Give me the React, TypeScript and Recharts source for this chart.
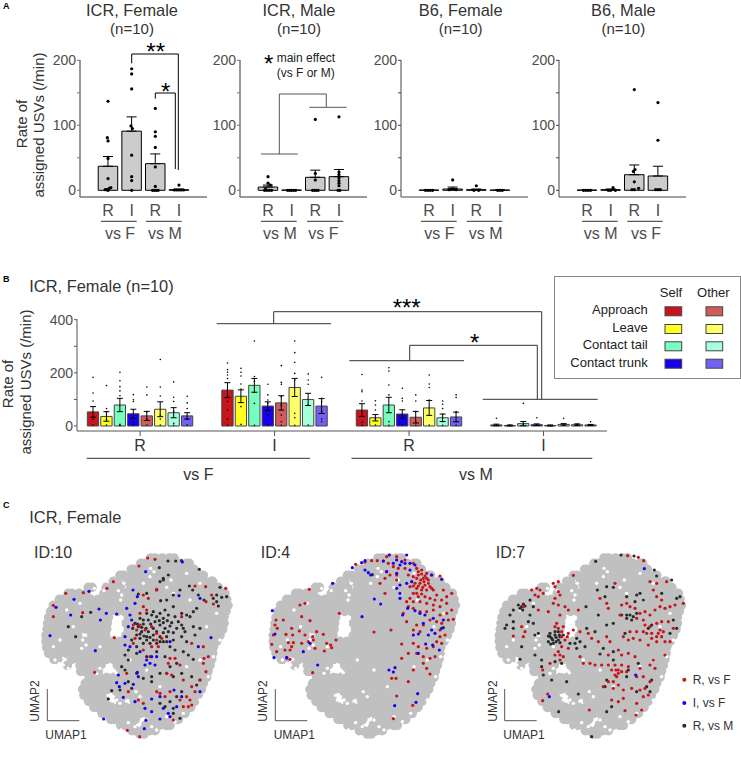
import React from 'react';
import { ComposedChart, ScatterChart, Bar, Cell, ErrorBar, Scatter, XAxis, YAxis } from 'recharts';

const FONT = '"Liberation Sans", Arial, sans-serif';
const TICK = '#4d4d4d';

// Panel A
const condsA = ['R', 'I', 'R', 'I'];
const icrFemaleBars = [37, 91, 41, 1];
const icrFemaleErr = [15, 22, 15, 1];
const icrMaleBars = [5, 0.5, 20, 21];
const icrMaleErr = [3, 0, 11, 11];
const b6FemaleBars = [0.5, 2, 1, 0.5];
const b6FemaleErr = [0, 3, 1, 0];
const b6MaleBars = [0.5, 1, 24, 22];
const b6MaleErr = [0, 1, 15, 15];
const icrFemaleDots = [1,137,.97,81,1,76,1,49,1,18,.88,1,.95,1,1.05,3,1.12,4,1,0,2,187,2,179,2,156,1.97,99,2.03,95,2,54,2,21,2,15,2,0,3,126,3,90,3,83,3,66,3,36,3,6,2.88,0,2.96,0,3.04,0,3.12,0,4,8,3.8,.5,3.9,.5,4,.5,4.1,.5,4.2,.5];
const icrMaleDots = [1,21,1,11,1.1,8,.9,2,.85,0,.95,0,1.05,0,1.15,0,1.83,0,1.92,0,2,0,2.08,0,2.17,0,3,109,3,26,3,16,2.88,0,2.96,0,3.04,0,3.12,0,4,113,4,28,4,24,4,19,4,15,4,11,4,7,3.96,0,4.04,0];
const b6FemaleDots = [.85,0,.95,0,1.05,0,1.15,0,2,16,1.85,1,1.95,2,2.05,2,2.15,1,3,7,2.9,0,3.1,0,3.9,0,4,0,4.1,0];
const b6MaleDots = [.85,0,.95,0,1.05,0,1.15,0,2.1,4,1.9,0,2,0,2.2,0,3,155,3.03,32,2.96,29,3,13,2.9,1,3,1,3.18,3,4,135,4,77,3.9,1,4,1,4.1,1];

// Panel B
const colorsB = ['#c8141c', '#ffff22', '#78ffc0', '#1800ee', '#d25a5c', '#ffff66', '#a4ffdc', '#7260f4'];
const posB = [1,2,3,4,5,6,7,8,11,12,13,14,15,16,17,18,21,22,23,24,25,26,27,28,31,32,33,34,35,36,37,38];
const meansB = [53,36,79,46,38,63,50,38,135,112,153,75,87,145,100,75,60,31,79,45,33,68,31,34,4,2,9,5,2,6,5,4];
const errsB = [20,18,25,17,17,28,19,12,28,24,26,16,27,34,23,28,24,12,29,16,22,28,14,18,3,2,8,3,2,3,3,2];
const dotsB = [
  [183,124,94,25,4],[152,66,54,25,4],[202,170,148,132,114,6,2],[118,99,92,14,3],[147,117,54,26,4],[250,147,113,41,26,4],[166,108,92,54,10,3],[112,87,66,26,4],
  [237,212,202,192,179,92,60,26,3],[217,202,188,158,139,73,6],[320,186,167,127,85,3],[157,117,98,85,41,3],[227,164,157,110,79,41,16,3],[320,276,240,198,173,48,31,3],[196,173,157,79,4],[183,104,92,54,26,16],
  [194,135,129,94,14,3],[95,79,60,26,4],[219,207,154,117,16,3],[142,104,94,41,4],[117,94,54,16,3],[192,158,145,98,4],[94,82,66,44,16,3],[117,107,54,16,3],
  [29,2],[4],[85,6],[31,4],[2],[29,4],[6],[16,2],
];

// Panel C: shared background cloud, one list of x per row, row y first
const cloudRows = [
  [174,452,466,487,508,522],
  [190,422,434,455,476,497,518,539,560,568],
  [208,394,403,424,445,466,487,508,529,550,571,582],
  [226,360,372,393,414,435,456,477,498,519,540,561,582,603,610],
  [244,340,352,382,403,424,445,466,487,508,529,550,571,592,613,634,638],
  [262,265,276,318,340,361,392,413,434,455,476,497,518,539,560,581,602,623,644,655],
  [280,205,216,237,258,312,333,354,375,396,417,438,459,480,501,522,543,564,585,606,627,648,669,675],
  [298,178,189,210,231,252,273,294,315,336,357,378,399,420,441,462,483,504,525,546,567,588,609,630,651,672,680],
  [316,160,171,192,213,234,255,276,297,318,339,360,381,402,423,444,465,486,507,528,549,570,591,612,633,654,675,684],
  [334,152,163,184,205,226,247,268,289,310,331,352,373,394,415,436,457,478,499,520,541,562,583,604,625,646,667,678],
  [352,146,157,178,199,220,241,262,283,304,325,385,406,427,448,469,490,511,532,553,574,595,616,637,658,672],
  [370,143,154,175,196,217,238,259,280,301,322,378,399,420,441,462,483,504,525,546,567,588,609,630,651,672],
  [388,141,152,173,194,215,236,257,278,299,320,385,406,427,448,469,490,511,532,553,574,595,616,637,658,668],
  [406,138,149,170,191,212,233,275,296,317,378,399,420,441,462,483,504,525,546,567,588,609,630,651,660],
  [424,138,149,170,191,212,233,254,275,296,317,338,359,380,401,422,443,464,485,506,527,548,569,590,611,632,650],
  [442,140,151,172,193,214,235,256,277,298,319,340,361,382,403,424,445,466,487,508,529,550,571,592,613,634,640],
  [460,146,157,178,199,220,241,262,283,304,325,346,367,388,409,430,451,472,493,514,535,556,577,598,619,638],
  [478,162,173,215,236,257,278,299,320,341,362,383,404,425,446,467,488,509,530,551,572,593,614,635],
  [496,202,240,261,282,303,352,373,394,415,436,457,478,499,520,541,562,583,604,625,630],
  [514,242,253,274,295,362,383,404,425,446,467,488,509,530,551,572,593,614,624],
  [532,268,279,300,321,342,363,384,405,426,447,468,489,510,531,552,573,594,615,620],
  [550,256,267,288,309,330,351,372,393,414,435,456,477,498,519,540,561,582,603,610],
  [568,248,259,280,301,322,343,364,385,406,427,448,469,490,511,532,553,574,595,604],
  [586,252,263,284,305,352,373,394,415,436,457,478,499,520,541,562,583,594],
  [604,266,277,298,319,361,403,424,445,466,487,508,529,550,571,584],
  [622,282,293,314,335,356,377,398,419,440,461,482,503,524,545,566,572],
  [640,306,317,338,359,380,401,422,443,464,485,506,527,548,555],
  [658,332,343,364,385,406,448,469,490,511,532,535],
  [676,362,373,394,436,457,478,499,510],
  [692,396,407,428,449,465],
  [702,420,432],
];
// empty specks inside the cloud
const cloudGaps = [345,365,350,380,355,395,360,370,345,390,365,385,352,405,340,375,283,265,295,270,303,252,312,272,355,272,365,285,362,300,372,250,452,205,462,215,450,230,513,240,500,262,520,280,313,510,325,515,338,512,348,518,300,505,290,520,255,405,248,420,258,435,245,445,178,490,190,495,165,480,205,505,340,590,350,600,360,610,330,600,408,575,420,590,405,680,420,672,455,680,470,690,363,690,385,668,440,660,500,650,525,665,550,640,600,600,625,530,640,470,660,420,600,480,560,500,480,560,440,510,390,480,300,440,220,380,180,420,160,440,200,330,240,310,430,250,560,220,600,250,650,340,620,380,570,300];
const id10Black = [504,183,527,183,545,182,598,208,478,203,490,235,505,225,480,245,490,240,415,282,440,280,470,270,482,302,500,300,520,285,540,270,568,258,578,270,595,285,612,300,660,262,650,285,665,292,680,290,650,305,655,318,640,295,580,335,560,345,590,325,520,320,495,330,460,335,440,340,420,355,405,370,398,385,415,380,430,372,445,360,470,350,490,355,505,345,525,350,545,340,570,350,580,380,600,385,585,405,555,395,545,375,530,385,510,378,495,385,480,375,460,385,445,395,425,395,410,405,395,420,420,415,440,410,460,405,480,410,500,410,520,420,545,410,560,425,510,440,490,425,470,430,450,430,430,430,410,440,385,450,375,465,385,480,410,460,440,470,470,455,495,470,525,450,550,455,565,465,580,478,530,490,510,500,480,520,455,530,430,535,410,520,375,510,365,500,385,545,360,570,335,572,325,597,395,565,455,545,500,520,520,530,545,520,575,530,590,555,600,540,545,575,530,590,510,605,480,610,495,620,520,625,540,655,520,640,205,380,227,410,245,350,272,337,412,372,425,382,438,385,452,372,465,365,478,362,490,368,502,362,515,368,420,402,432,408,450,412,470,395,490,398,505,395,520,398,535,365,550,385,430,360,455,345,480,340,440,420,460,420,480,425,500,425];
const id10Red = [443,174,465,178,417,198,340,245,321,265,197,280,250,278,160,316,160,350,248,338,343,413,284,517,382,691,419,710,520,660,585,258,617,260,677,265,635,285,618,305,640,312,430,285,445,295,470,268,430,320,440,330,420,340,400,375,420,375,435,390,410,390,455,380,470,420,485,415,475,440,455,440,430,450,400,430,405,415,545,350,510,475,525,475,505,490,540,495,500,520,515,525,612,475,625,470,610,490,618,515,600,540,585,575,560,590,570,600,575,615,565,620,550,620,480,580,495,590,470,575,510,575,380,520,385,575,430,610,415,600,610,440,575,430,470,400,550,540,575,560,540,600,450,470];
const id10Blue = [547,186,437,215,267,274,222,298,168,322,297,327,212,345,319,340,350,342,301,360,150,407,286,452,311,657,399,270,412,290,405,310,380,325,390,345,395,360,385,380,375,410,375,435,390,440,420,455,440,480,450,490,465,495,455,470,470,470,435,495,412,517,415,530,355,525,350,548,358,560,375,550,400,553,370,592,405,605,435,625,455,597,480,590,455,635,490,625,522,570,530,620,505,640,480,657,438,661,433,686,600,295,537,287,633,413,595,440,510,425,600,575,545,590,510,650];
const id4Red = [317,193,345,186,365,182,382,182,400,183,415,190,430,200,445,205,465,205,410,170,440,170,465,180,490,190,500,205,515,210,530,220,545,225,570,228,410,215,405,235,420,225,440,225,390,250,405,280,440,240,475,225,490,230,505,225,520,235,535,240,495,250,510,250,525,255,540,260,480,260,500,265,515,270,530,270,550,270,560,285,580,270,605,280,590,290,575,300,555,300,540,295,525,290,505,290,490,280,480,295,470,305,490,305,510,305,530,310,550,315,570,320,590,310,605,330,590,340,570,345,550,330,530,335,510,335,490,325,475,320,460,340,610,358,595,360,575,370,560,365,540,360,520,375,500,375,470,365,490,390,510,395,570,390,585,405,570,410,560,425,575,430,550,440,530,445,505,440,490,430,455,432,475,460,455,475,500,460,520,470,540,475,555,470,520,490,530,505,490,510,540,522,425,535,438,535,475,545,440,588,488,616,430,656,372,396,423,390,268,340,178,268,165,310,150,315,155,350,180,362,78,360,75,375,82,385,100,360,125,385,70,405,108,403,128,405,148,393,165,405,200,395,220,403,188,410,115,428,130,428,155,430,65,433,125,440,120,450,105,450,80,455,110,475,120,478,230,430,242,435,245,443,258,420,223,453,195,445,190,420,175,425,188,518,505,215,515,222,525,228,500,235,512,240,522,245,530,235,490,258,505,258,518,262,535,250,545,265,500,280,515,282];
const id4Blue = [418,165,470,165,440,180,455,185,465,190,450,195,430,190,400,183,345,182,335,188,307,203,345,210,355,218,362,225,410,215,440,220,480,190,495,195,480,210,545,225,575,238,485,245,470,250,450,255,440,265,450,280,450,295,248,250,373,297,392,312,336,350,458,345,473,325,495,332,510,340,525,345,550,355,520,370,580,360,575,385,545,390,505,402,490,405,535,405,555,400,527,432,548,435,568,450,505,460,67,332,75,402,72,473,110,472,160,455,180,430,203,495,435,503,417,510,430,516,503,581,498,607,434,617];
const id4Black = [367,224,580,383];
const id7Red = [443,167,475,172,491,182,220,250,235,245,225,260,280,226,155,270,170,265,180,270,190,280,165,285,175,290,235,275,225,295,240,285,220,310,235,315,255,320,265,330,295,330,205,335,240,345,130,320,175,330,125,380,135,395,100,408,130,410,230,370,250,380,245,395,265,400,255,420,245,440,265,445,250,470,225,465,240,480,280,390,300,395,325,400,335,415,355,425,300,470,310,490,330,490,345,495,365,495,385,495,405,495,425,495,445,500,408,510,405,525,415,520,440,515,405,250,360,295,380,310,385,325,425,315,440,310,450,320,465,325,480,340,495,335,510,345,525,330,540,320,555,325,570,320,585,315,610,310,545,300,530,290,520,270,510,245,530,250,560,245,420,345,470,355,490,360,450,395,470,395,490,395,510,380,530,370,545,365,565,365,580,385,550,395,535,400,515,415,530,425,555,425,570,425,505,435,480,420,460,415,445,420,430,410,380,410,390,425,415,450,425,465,445,460,465,470,385,465,555,465,520,480,510,495,525,505,480,505,490,530,470,530,510,545,400,545,415,555,385,545,430,570,455,565,480,570,490,590,505,585,495,565,430,595,415,605,395,600,470,610,485,630,468,645,435,632,328,630,188,602,203,582,210,490,188,510,370,560,400,565,235,385,245,410,225,380,262,410,235,455,240,465,415,510,425,515,410,530,395,510,540,390,530,410,545,410,500,400,515,400,495,375];
const id7Black = [423,165,462,168,347,184,523,210,530,228,575,240,600,290,590,295,470,285,490,300,465,305,440,290,480,280,400,262,380,260,352,270,375,290,318,320,355,345,425,345,440,355,455,360,450,345,470,340,505,385,515,375,435,400,400,370,380,375,345,395,320,385,545,280,115,315,125,320,135,318,100,330,90,345,100,365,80,375,75,385,100,385,150,300,160,320,150,345,160,370,145,365,165,405,175,400,210,400,215,415,225,405,235,420,205,425,220,430,240,410,250,405,225,395,235,395,285,430,300,425,270,430,290,445,315,440,225,485,245,490,185,480,165,465,120,478,125,440,185,500,190,525,215,540,260,545,295,582,236,635,335,710,380,635,395,620,470,575,500,560,510,575,380,540,375,560,370,445,360,462,400,455,440,530,445,510,400,480,475,490,515,540,580,360,570,400,590,385,290,415,210,410,218,420,228,412,238,405,212,432,228,425,240,428,205,408,120,325,130,312,128,330,440,345,460,350];
const id7Blue = [493,206,467,525,208,590];

const pairs = (flat: number[], shift = 0) => {
  const out: { x: number; y: number }[] = [];
  for (let i = 0; i < flat.length; i += 2) out.push({ x: flat[i] - shift, y: flat[i + 1] });
  return out;
};
const cloudPoints = (shift: number) =>
  cloudRows.flatMap((row) => row.slice(1).map((x) => ({ x: x - shift, y: row[0] })));

const dot = (r: number, fill: string) => (p: any) => <circle cx={p.cx} cy={p.cy} r={r} fill={fill} />;

function PanelA({ left, bars, errs, dots, axis, axisW }: any) {
  const rows = condsA.map((c, i) => ({ x: i + 1, y: bars[i], err: [0, errs[i]] }));
  const domainX = [-0.186, 5.186];
  return (
    <div style={{ position: 'absolute', left: left - 40, top: 48 }}>
      <ComposedChart width={172} height={179} data={rows} margin={{ top: 12, right: 5, left: 0, bottom: 0 }}>
        <XAxis dataKey="x" type="number" domain={domainX} allowDataOverflow ticks={[1, 2, 3, 4]} interval={0}
          tickFormatter={(v: number) => condsA[v - 1]} height={30} tickSize={0} tickMargin={8} tickLine={false}
          axisLine={{ stroke: axis, strokeWidth: axisW }} tick={{ fontSize: 16, fill: TICK, fontFamily: FONT }} />
        <XAxis xAxisId="dots" dataKey="x" type="number" domain={domainX} allowDataOverflow hide />
        <YAxis dataKey="y" type="number" domain={[-10.3, 200.5]} allowDataOverflow ticks={[0, 50, 100, 150, 200]} interval={0}
          tickFormatter={(v: number) => (v % 100 === 0 ? String(v) : '')} width={40} tickSize={3} tickMargin={1}
          axisLine={{ stroke: axis, strokeWidth: axisW }} tickLine={{ stroke: axis }} tick={{ fontSize: 14, fill: TICK, fontFamily: FONT }} />
        <Bar dataKey="y" barSize={19.5} fill="#cccccc" stroke="#000" strokeWidth={1} isAnimationActive={false}>
          <ErrorBar dataKey="err" width={5} stroke="#000" strokeWidth={1} direction="y" isAnimationActive={false} />
        </Bar>
        <Scatter xAxisId="dots" data={pairs(dots)} dataKey="y" shape={dot(1.6, '#000')} isAnimationActive={false} />
      </ComposedChart>
    </div>
  );
}

function PanelB() {
  const rows = posB.map((x, i) => ({ x, y: meansB[i], err: errsB[i] }));
  const points = posB.flatMap((x, i) => dotsB[i].map((y) => ({ x, y })));
  const labels: Record<number, string> = { 4.5: 'R', 14.5: 'I', 24.5: 'R', 34.5: 'I' };
  return (
    <div style={{ position: 'absolute', left: 76.7 - 40, top: 305 }}>
      <ComposedChart width={575} height={159} data={rows} margin={{ top: 14, right: 5, left: 0, bottom: 0 }}>
        <XAxis dataKey="x" type="number" domain={[-0.194, 39.22]} allowDataOverflow ticks={[4.5, 14.5, 24.5, 34.5]} interval={0}
          tickFormatter={(v: number) => labels[v]} height={33} tickSize={5} tickMargin={4}
          axisLine={{ stroke: '#555', strokeWidth: 1 }} tickLine={{ stroke: '#555' }} tick={{ fontSize: 16, fill: '#333', fontFamily: FONT }} />
        <YAxis dataKey="y" type="number" domain={[-18.8, 402.6]} allowDataOverflow ticks={[0, 100, 200, 300, 400]} interval={0}
          tickFormatter={(v: number) => (v % 200 === 0 ? String(v) : '')} width={40} tickSize={3} tickMargin={1}
          axisLine={{ stroke: '#555', strokeWidth: 1 }} tickLine={{ stroke: '#555' }} tick={{ fontSize: 14, fill: TICK, fontFamily: FONT }} />
        <Bar dataKey="y" barSize={11.3} stroke="#444" strokeWidth={1} isAnimationActive={false}>
          {rows.map((_, i) => <Cell key={i} fill={colorsB[i % 8]} />)}
          <ErrorBar dataKey="err" width={3} stroke="#000" strokeWidth={1} direction="y" isAnimationActive={false} />
        </Bar>
        <Scatter data={points} dataKey="y" shape={dot(0.8, '#000')} isAnimationActive={false} />
      </ComposedChart>
    </div>
  );
}

function PanelC({ left, width, shift, red, blue, black }: any) {
  return (
    <div style={{ position: 'absolute', left, top: 500 }}>
      <ScatterChart width={width} height={257} margin={{ top: 0, right: 0, left: 0, bottom: 0 }}>
        <XAxis dataKey="x" type="number" domain={[0, width * 3]} hide allowDataOverflow />
        <YAxis dataKey="y" type="number" domain={[0, 771]} reversed hide allowDataOverflow />
        <Scatter data={cloudPoints(shift)} shape={dot(4.8, '#c0c0c0')} isAnimationActive={false} />
        <Scatter data={pairs(cloudGaps, shift)} shape={dot(1.7, '#ffffff')} isAnimationActive={false} />
        <Scatter data={pairs(black)} shape={dot(1.6, '#2b2b2b')} isAnimationActive={false} />
        <Scatter data={pairs(red)} shape={dot(1.6, '#c8141c')} isAnimationActive={false} />
        <Scatter data={pairs(blue)} shape={dot(1.6, '#1c00ee')} isAnimationActive={false} />
      </ScatterChart>
    </div>
  );
}

const T = ({ x, y, s = 14, a = 'start', c = '#333', w, rot, children }: any) => (
  <text x={x} y={y} fontSize={s} textAnchor={a} fill={c} fontFamily={FONT} fontWeight={w}
    transform={rot ? `rotate(-90 ${x} ${y})` : undefined}>{children}</text>
);

function Overlay() {
  const legendRows = ['Approach', 'Leave', 'Contact tail', 'Contact trunk'];
  const legendBase = [314.3, 332, 349.3, 366.7];
  return (
    <svg width={741} height={757} style={{ position: 'absolute', left: 0, top: 0, pointerEvents: 'none' }}>
      <T x={3} y={9} s={9} w="bold" c="#000">A</T>
      <T x={3} y={282} s={9} w="bold" c="#000">B</T>
      <T x={3} y={508} s={9} w="bold" c="#000">C</T>
      {[['ICR, Female', 132], ['ICR, Male', 299], ['B6, Female', 460.7], ['B6, Male', 623.3]].map(([t, x]: any) => (
        <g key={t}><T x={x} y={16} s={16.4} a="middle">{t}</T><T x={x} y={34} s={15} a="middle">(n=10)</T></g>
      ))}
      <T x={26.7} y={124} s={15} a="middle" rot>Rate of</T>
      <T x={44.3} y={125} s={15} a="middle" rot>assigned USVs (/min)</T>
      <path d="M101 221.3H136.7M146 221.3H181.7M261 221.3H296.7M307 221.3H343.3M421 221.3H456.7M466.7 221.3H502.3M582 221.3H617.7M627.3 221.3H662.7" stroke="#333" fill="none" />
      {[['vs F', 120], ['vs M', 165], ['vs M', 280], ['vs F', 323.3], ['vs F', 439.3], ['vs M', 485.7], ['vs M', 600.7], ['vs F', 646]].map(([t, x]: any, i) => (
        <T key={i} x={x} y={238.7} s={16} a="middle" c={TICK}>{t}</T>
      ))}
      <path d="M131.7 63.3V54H178.3V170M155.3 98.7V93H175.3V169" stroke="#000" fill="none" />
      <T x={155.7} y={60} s={24} a="middle" c="#000">**</T>
      <T x={165.7} y={100} s={24} a="middle" c="#000">*</T>
      <T x={268.7} y={72} s={24} a="middle" c="#000">*</T>
      <T x={276.7} y={62} s={12} c="#222">main effect</T>
      <T x={276.7} y={77.3} s={12} c="#222">(vs F or M)</T>
      <path d="M261 154H297.7M279.3 154V94H326.3V107.3M309.3 107.3H346.7" stroke="#555" fill="none" />
      <T x={29.3} y={292.3} s={16.4}>ICR, Female (n=10)</T>
      <T x={13} y={384} s={15} a="middle" rot>Rate of</T>
      <T x={30.7} y={382} s={15} a="middle" rot>assigned USVs (/min)</T>
      <path d="M86.7 458.3H310M351.5 458.3H592.3" stroke="#333" fill="none" />
      <T x={198.3} y={480} s={16} a="middle" c="#333">vs F</T>
      <T x={476} y={480} s={16} a="middle" c="#333">vs M</T>
      <path d="M216.7 323.7H331M273.7 323.7V311.7H541.7V399.3M349.3 360.7H464M409.7 360.7V345.3H537.3V399.3M482.7 399.3H597.7" stroke="#333" fill="none" />
      <T x={406.7} y={316} s={24} a="middle" c="#000">***</T>
      <T x={474.7} y={351} s={24} a="middle" c="#000">*</T>
      <rect x={554.5} y={276.5} width={186} height={102} fill="none" stroke="#888" />
      <T x={671} y={296.7} s={13} a="middle" c="#222">Self</T>
      <T x={713.3} y={296.7} s={13} a="middle" c="#222">Other</T>
      {legendRows.map((t, i) => (
        <g key={t}>
          <T x={647.7} y={legendBase[i]} s={13} a="end" c="#222">{t}</T>
          <rect x={665} y={legendBase[i] - 7.5} width={16.7} height={9} fill={colorsB[i]} stroke="#444" />
          <rect x={706} y={legendBase[i] - 7.5} width={16.7} height={9} fill={colorsB[i + 4]} stroke="#444" />
        </g>
      ))}
      <T x={29.3} y={522.7} s={16.4}>ICR, Female</T>
      <T x={34} y={558} s={16}>ID:10</T>
      <T x={260.7} y={558} s={16}>ID:4</T>
      <T x={495.7} y={558} s={16}>ID:7</T>
      <path d="M47.3 689V720.7H79.3M275.3 689V720.7H307.3M504.7 689V720.7H536.7" stroke="#555" fill="none" />
      <T x={66} y={738.7} s={12} a="middle">UMAP1</T>
      <T x={294.3} y={738.7} s={12} a="middle">UMAP1</T>
      <T x={524} y={738.7} s={12} a="middle">UMAP1</T>
      <T x={39} y={701} s={12} a="middle" rot>UMAP2</T>
      <T x={266.7} y={701} s={12} a="middle" rot>UMAP2</T>
      <T x={496.7} y={701} s={12} a="middle" rot>UMAP2</T>
      <circle cx={684.3} cy={679.7} r={2} fill="#c8141c" />
      <circle cx={684.3} cy={703} r={2} fill="#1c00ee" />
      <circle cx={684.3} cy={725.7} r={2} fill="#2b2b2b" />
      <T x={692.7} y={683.5} s={12}>R, vs F</T>
      <T x={692.7} y={707} s={12}>I, vs F</T>
      <T x={692.7} y={730} s={12}>R, vs M</T>
    </svg>
  );
}

export default function App() {
  return (
    <div style={{ position: 'absolute', left: 0, top: 0, width: 741, height: 757, background: '#fff', overflow: 'hidden' }}>
      <PanelA left={80} bars={icrFemaleBars} errs={icrFemaleErr} dots={icrFemaleDots} axis="#777" axisW={1.5} />
      <PanelA left={240} bars={icrMaleBars} errs={icrMaleErr} dots={icrMaleDots} axis="#777" axisW={1.5} />
      <PanelA left={400.7} bars={b6FemaleBars} errs={b6FemaleErr} dots={b6FemaleDots} axis="#444" axisW={1} />
      <PanelA left={559.3} bars={b6MaleBars} errs={b6MaleErr} dots={b6MaleDots} axis="#444" axisW={1} />
      <PanelB />
      <PanelC left={0} width={250} shift={0} red={id10Red} blue={id10Blue} black={id10Black} />
      <PanelC left={250} width={230} shift={68} red={id4Red} blue={id4Blue} black={id4Black} />
      <PanelC left={480} width={261} shift={80} red={id7Red} blue={id7Blue} black={id7Black} />
      <Overlay />
    </div>
  );
}
